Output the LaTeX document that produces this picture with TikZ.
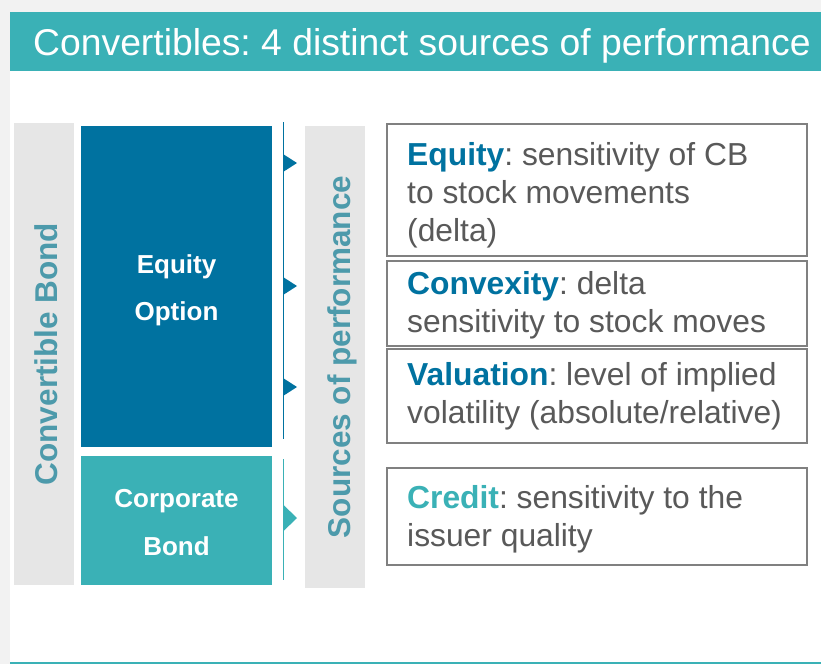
\documentclass[tikz,border=0pt]{standalone}
\usepackage{fontspec}
\setmainfont{Liberation Sans}
\frenchspacing
\definecolor{teal}{HTML}{3AB1B6}
\definecolor{deepblue}{HTML}{0072A0}
\definecolor{panelgrey}{HTML}{E6E6E6}
\definecolor{pagegrey}{HTML}{F2F2F2}
\definecolor{bodygrey}{HTML}{595959}
\definecolor{framegrey}{HTML}{808080}
\definecolor{sidelabel}{HTML}{4D9AAB}
\tikzset{
  panel/.style={fill=panelgrey, draw=none, inner sep=0pt, anchor=north west},
  block/.style={draw=none, inner sep=0pt, anchor=north west},
  blocktext/.style={text=white, font=\fontsize{26}{47}\selectfont\bfseries, align=center, inner sep=0pt, anchor=base},
  sidetext/.style={text=sidelabel, font=\fontsize{31.5}{38}\selectfont\bfseries, rotate=90, inner sep=0pt, anchor=base},
  srcbox/.style={draw=framegrey, line width=1.5pt, inner sep=0pt, anchor=north west, minimum width=420pt},
  srctext/.style={text=bodygrey, font=\fontsize{31.8}{38}\selectfont, align=left, inner sep=0pt, anchor=north west},
}
\begin{document}
\begin{tikzpicture}[x=1pt, y=-1pt]
  \useasboundingbox (0,0) rectangle (821,664);
  % page and title band
  \fill[pagegrey] (0,0) rectangle (821,664);
  \fill[white] (10,12) rectangle (821,664);
  \node[fill=teal, inner sep=0pt, minimum width=811pt, minimum height=59pt, anchor=north west] (band) at (10,12) {};
  \node[text=white, font=\fontsize{37.3}{44}\selectfont, inner sep=0pt, anchor=base west] (title) at (33,55) {Convertibles: 4 distinct sources of performance};
  \draw[teal, line width=2pt] (10,663) -- (821,663);

  % left column: the convertible bond and its two parts
  \node[panel, minimum width=60pt, minimum height=462pt] (cbcol) at (14,123) {};
  \node[sidetext] (cblabel) at (57,354) {Convertible Bond};
  \node[block, fill=deepblue, minimum width=191pt, minimum height=321pt] (eqopt) at (81,126) {};
  \node[block, fill=teal, minimum width=191pt, minimum height=129pt] (corp) at (81,456) {};
  \node[blocktext] (eqtxt1) at (176.5,273) {Equity};
  \node[blocktext] (eqtxt2) at (176.5,320) {Option};
  \node[blocktext] (cotxt1) at (176.5,507) {Corporate};
  \node[blocktext] (cotxt2) at (176.5,555) {Bond};

  % brackets with pointers
  \coordinate (bt) at (283.5,122);
  \coordinate (bb) at (283.5,439);
  \coordinate (ct) at (283.5,459);
  \coordinate (cbot) at (283.5,580);
  \draw[deepblue, line width=1.6pt] (bt) -- (bb);
  \draw[teal, line width=1.6pt] (ct) -- (cbot);
  \foreach \yy in {163,286,387}
    \fill[deepblue] (283,\yy-9) -- (297,\yy) -- (283,\yy+9) -- cycle;
  \fill[teal] (283,504.5) -- (297,518) -- (283,531.5) -- cycle;

  % middle column label
  \node[panel, minimum width=60pt, minimum height=462pt] (srccol) at (305,126) {};
  \node[sidetext] (srclabel) at (350,357) {Sources of performance};

  % right column: the four sources
  \node[srcbox, minimum height=132pt] (eqbox) at (386,123) {};
  \node[srcbox, minimum height=85pt] (cvbox) at (386,260) {};
  \node[srcbox, minimum height=94pt] (vlbox) at (386,348) {};
  \node[srcbox, minimum height=97pt] (crbox) at (386,467) {};

  \node[srctext] (eqdesc) at (407,140) {\rule{0pt}{25pt}\textcolor{deepblue}{\textbf{Equity}}: sensitivity of CB\\to stock movements\\(delta)};
  \node[srctext] (cvdesc) at (407,269) {\rule{0pt}{25pt}\textcolor{deepblue}{\textbf{Convexity}}: delta\\sensitivity to stock moves};
  \node[srctext] (vldesc) at (407,360) {\rule{0pt}{25pt}\textcolor{deepblue}{\textbf{Valuation}}: level of implied\\volatility (absolute/relative)};
  \node[srctext] (crdesc) at (407,483) {\rule{0pt}{25pt}\textcolor{teal}{\textbf{Credit}}: sensitivity to the\\issuer quality};
\end{tikzpicture}
\end{document}
